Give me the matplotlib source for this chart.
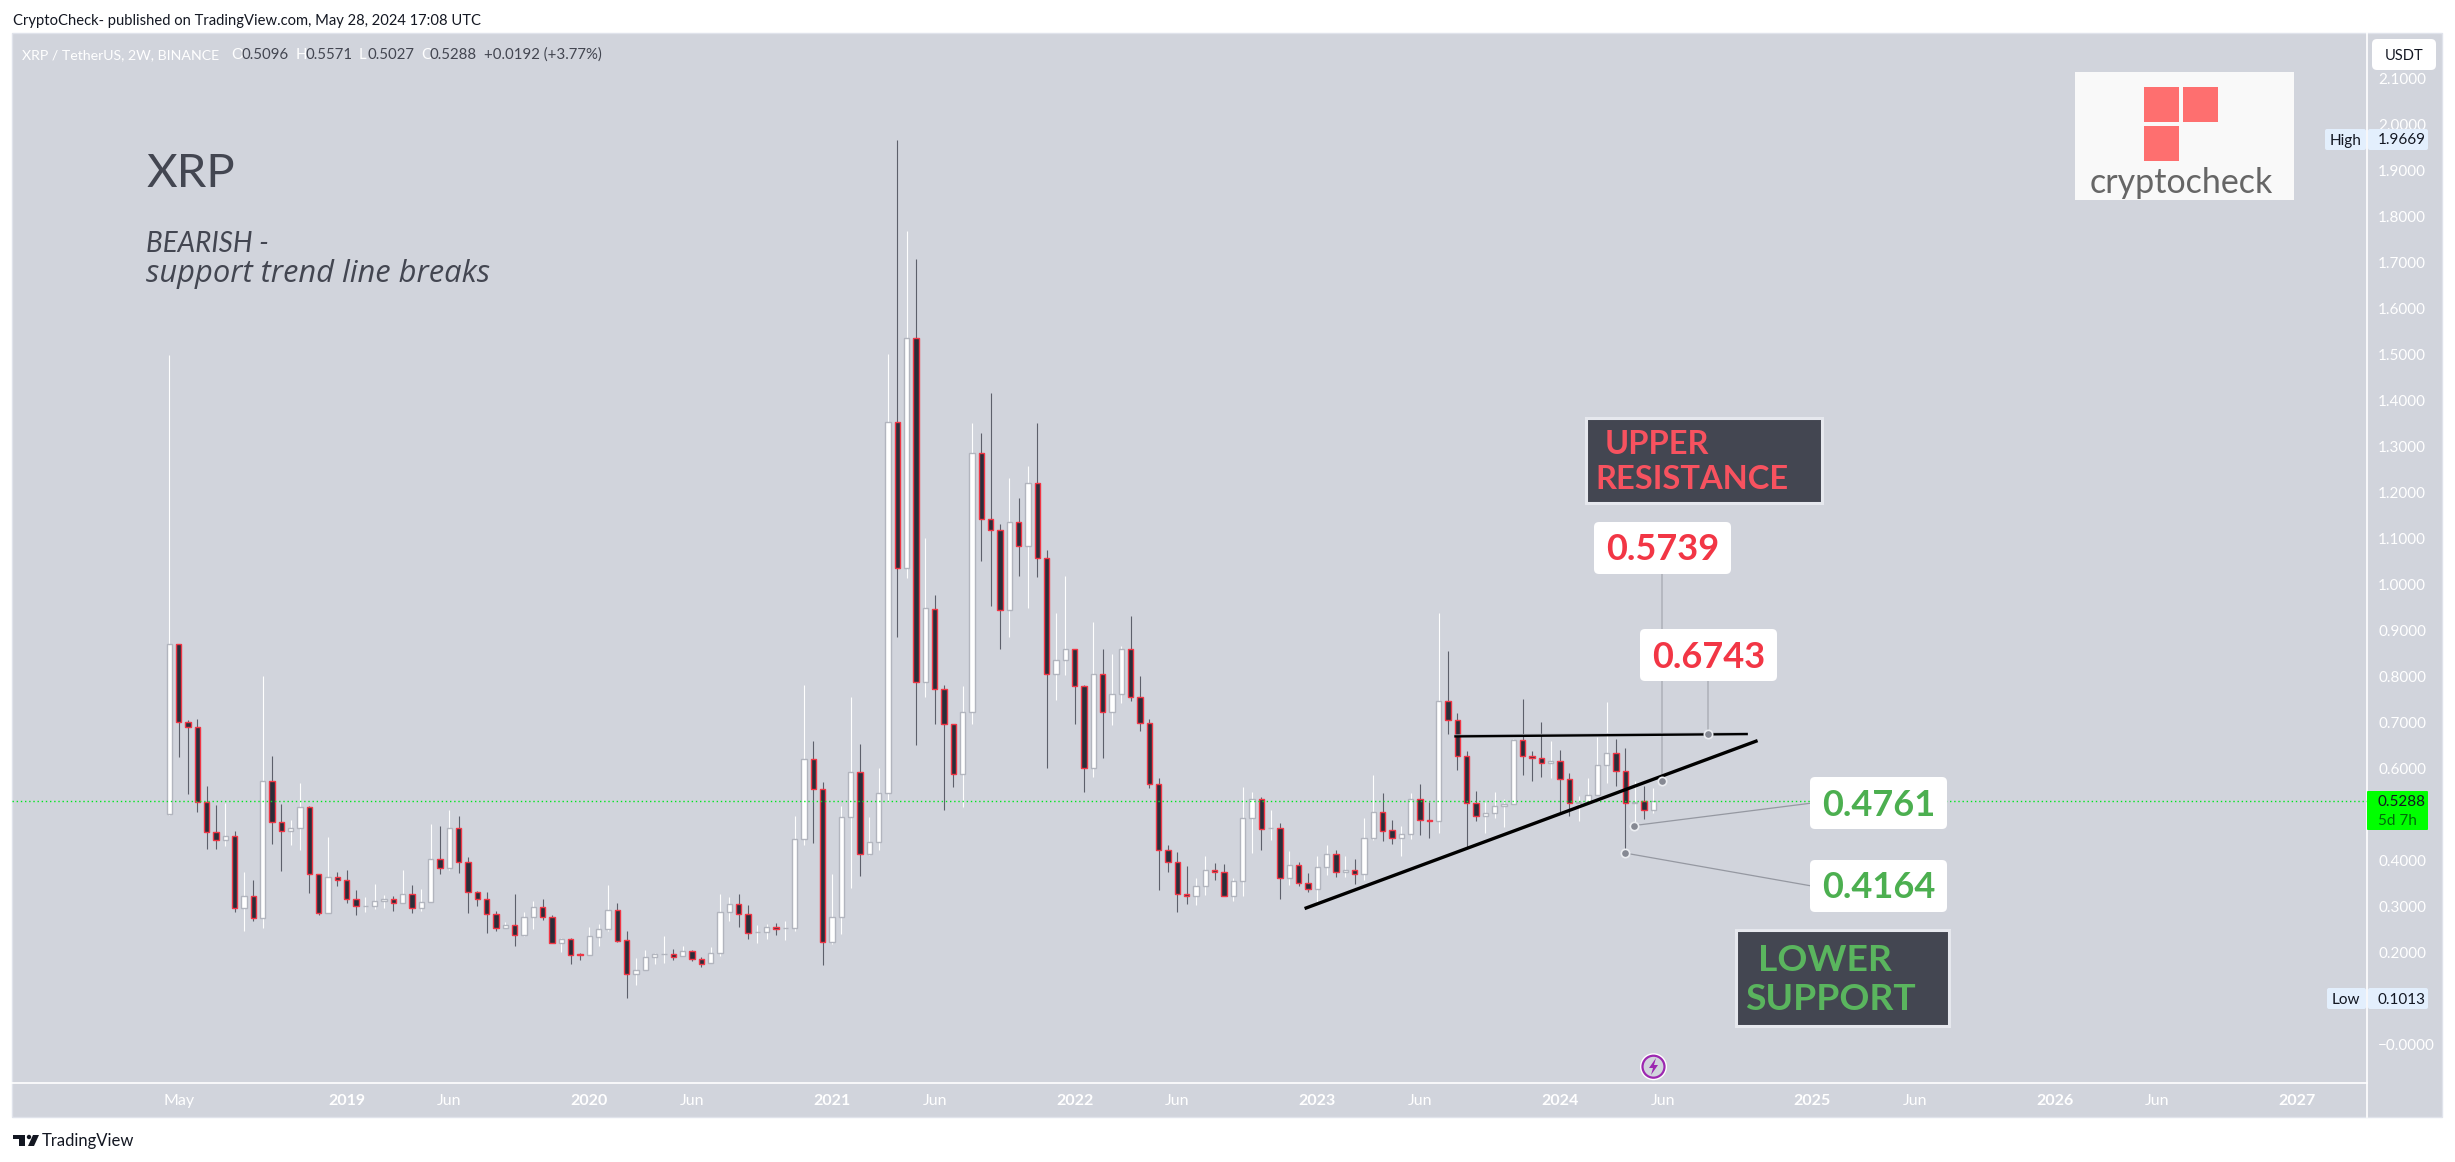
import matplotlib
matplotlib.use('Agg')
import matplotlib.pyplot as plt
from matplotlib.patches import Rectangle, FancyBboxPatch, Circle, Polygon

# XRP/USDT 2W candles, May 2018 - May 2024
opens = [.5005, .87, .7006, .6897, .5266, .4614, .4455, .4527, .2962, .3223,
         .2759, .5723, .4832, .4636, .4701, .5158, .3701, .2868, .3651, .3585,
         .3158, .3020, .3020, .3114, .3158, .3085, .3267, .2977, .3092, .4027,
         .3846, .4701, .3962, .3310, .3172, .2832, .2542, .2592, .2390, .2767,
         .2984, .2781, .2201, .2288, .1970, .1940, .2346, .2506, .2919, .2266,
         .1527, .1614, .1897, .1962, .1962, .1919, .2027, .1853, .1767, .1984,
         .2875, .3049, .2832, .2440, .2440, .2549, .2527, .2527, .4462, .6201,
         .5549, .2237, .2766, .4955, .5919, .4150, .4397, .5462, 1.3527, 1.0354,
         1.5354, .7890, .9462, .7737, .6962, .5875, .7237, 1.2854, 1.1419, 1.1180,
         .9441, 1.1354, 1.0832, 1.2201, 1.0571, .8049, .8353, .8593, .7788, .6006,
         .8049, .7223, .7614, .8593, .7549, .6984, .5658, .4223, .3962, .3266,
         .3223, .3440, .3788, .3745, .3223, .3549, .4918, .5332, .4701, .4701,
         .3614, .3897, .3505, .3375, .3854, .4136, .3745, .3788, .3701, .4484,
         .5049, .4658, .4484, .4571, .5346, .4875, .4853, .7462, .7049, .6266,
         .5245, .4962, .5027, .5179, .5223, .6614, .6266, .6223, .6114, .6158,
         .5766, .5245, .5274, .5419, .6071, .6332, .5940, .5245, .5288, .5096]
highs = [1.50, .87, .7056, .7078, .5621, .5208, .5252, .4643, .3752, .3578,
         .8013, .6274, .5230, .4882, .5687, .5194, .3701, .4513, .3752, .3795,
         .3361, .3208, .3491, .3245, .3230, .3795, .3469, .3382, .4795, .4752,
         .5100, .4969, .4078, .3339, .3317, .2904, .2658, .3274, .2882, .3121,
         .3165, .2810, .2310, .2317, .1991, .2556, .2621, .3469, .3078, .2469,
         .1890, .2056, .1991, .2360, .2078, .2143, .2056, .1904, .2122, .3274,
         .3208, .3274, .3034, .2600, .2622, .2643, .2687, .4969, .7817, .6600,
         .5708, .3709, .5194, .7556, .6535, .4948, .6013, 1.5013, 1.9669, 1.7687,
         1.7078, 1.1013, .9774, .7817, .6962, .7795, 1.3513, 1.3296, 1.4165, 1.1317,
         1.2317, 1.1883, 1.2578, 1.3513, 1.0752, .9382, 1.0187, .8593, .7817, .9187,
         .8600, .8491, .8665, .9317, .8013, .7078, .5795, .4339, .4187, .3882,
         .3621, .4100, .3947, .3926, .3621, .5600, .5491, .5382, .5100, .4817,
         .4209, .3969, .3730, .4100, .4339, .4230, .4100, .4035, .4918, .5861,
         .5469, .4882, .4752, .5469, .5665, .5274, .9382, .8556, .7209, .6382,
         .5513, .5274, .5491, .5339, .6636, .7513, .6382, .7013, .6600, .6404,
         .5904, .5404, .5795, .6687, .7447, .6643, .6448, .5730, .5629, .5571]
lows = [.50, .626, .5455, .5064, .4259, .4259, .4324, .2890, .2476, .2694,
        .2535, .4368, .3781, .4339, .4237, .3303, .2817, .2868, .3448, .3085,
        .2817, .2890, .2947, .2969, .2911, .3085, .2868, .2911, .3092, .3716,
        .3795, .3737, .2868, .3020, .2433, .2476, .2542, .2151, .2368, .2520,
        .2716, .2201, .2020, .1759, .1839, .1940, .2151, .2476, .2237, .1013,
        .1303, .1614, .1759, .1781, .1839, .1919, .1824, .1694, .1767, .1933,
        .2694, .2564, .2295, .2208, .2295, .2390, .2274, .2477, .4339, .4390,
        .1737, .2187, .2404, .3404, .3665, .4122, .4230, .5281, .8868, 1.0151,
        .6513, .7556, .6969, .5100, .5600, .5172, .6969, 1.0520, .9542, .8607,
        .8868, 1.0194, .9491, 1.0172, .6020, .7498, .8035, .6977, .5498, .5824,
        .6237, .6955, .7433, .7477, .6824, .5585, .3368, .3759, .2890, .3064,
        .3042, .3259, .3585, .3223, .3121, .3237, .4172, .4237, .4448, .3172,
        .3469, .3455, .3324, .3107, .3679, .3636, .3636, .3484, .3571, .4440,
        .4419, .4353, .4107, .4462, .4556, .4491, .4593, .6752, .5969, .4266,
        .4861, .4600, .4926, .4730, .5223, .5861, .5730, .5817, .5795, .5027,
        .4969, .4861, .5274, .5419, .5687, .5622, .4164, .4761, .4897, .5027]
closes = [.87, .7006, .6897, .5266, .4614, .4455, .4527, .2962, .3223, .2759,
          .5723, .4832, .4636, .4701, .5158, .3701, .2868, .3651, .3585, .3158,
          .3020, .3020, .3114, .3158, .3085, .3267, .2977, .3092, .4027, .3846,
          .4701, .3962, .3310, .3172, .2832, .2542, .2592, .2390, .2767, .2984,
          .2781, .2201, .2288, .1955, .1955, .2353, .2506, .2919, .2259, .1527,
          .1614, .1897, .1962, .1962, .1911, .2027, .1853, .1759, .1984, .2875,
          .3049, .2832, .2419, .2440, .2549, .2520, .2527, .4462, .6201, .5549,
          .2237, .2766, .4941, .5919, .4150, .4397, .5462, 1.3527, 1.0354, 1.5354,
          .7890, .9484, .7737, .6962, .5875, .7237, 1.2854, 1.1419, 1.1180, .9441,
          1.1354, 1.0832, 1.2201, 1.0571, .8049, .8353, .8593, .7788, .6006, .8049,
          .7223, .7614, .8593, .7549, .6984, .5658, .4223, .3962, .3266, .3223,
          .3440, .3788, .3759, .3223, .3549, .4918, .5332, .4680, .4701, .3614,
          .3897, .3505, .3375, .3854, .4136, .3745, .3788, .3716, .4484, .5049,
          .4636, .4484, .4571, .5346, .4875, .4853, .7462, .7049, .6266, .5245,
          .4962, .5027, .5179, .5223, .6614, .6266, .6223, .6114, .6158, .5766,
          .5245, .5274, .5419, .6071, .6332, .5940, .5245, .5274, .5093, .5288]

last_close = 0.5288
# 0.1000 and 0.5000 sit behind the Low and last price tags
price_ticks = [0.0, 0.2, 0.3, 0.4, 0.6, 0.7, 0.8, 0.9, 1.0, 1.1, 1.2, 1.3, 1.4, 1.5, 1.6, 1.7, 1.8, 1.9, 2.0, 2.1]
price_labels = ['\u22120.0000'] + ['%.4f' % p for p in price_ticks[1:]]
time_ticks = [1, 19, 30, 45, 56, 71, 82, 97, 108, 123, 134, 149, 160, 176, 187, 202, 213, 228]
time_labels = ['May', '2019', 'Jun', '2020', 'Jun', '2021', 'Jun', '2022', 'Jun', '2023',
               'Jun', '2024', 'Jun', '2025', 'Jun', '2026', 'Jun', '2027']

# drawn lines, x in bars, y in price
support_x = [121.8, 170.0]
support_y = [0.297, 0.6596]
resist_x = [137.8, 169.0]
resist_y = [0.670, 0.675]
anchor_x = [159.9, 164.9, 156.9, 155.97]
anchor_y = [0.5739, 0.6743, 0.4761, 0.4164]
target_x = [159.9, 164.9, 175.8, 175.8]
target_y = [1.03, 0.80, 0.5246, 0.3454]

W, H = 2455, 1162
BG = '#d1d4dc'
DARK = '#434651'
RED = '#f23645'
GREEN = '#4caf50'
FONT = 'Lato'

plt.rcParams['font.family'] = FONT
fig = plt.figure(figsize=(W / 100, H / 100), dpi=100, facecolor='white')

# panel behind everything, in pixel coordinates
back = fig.add_axes([0, 0, 1, 1], zorder=0)
back.set_xlim(0, W)
back.set_ylim(H, 0)
back.axis('off')
back.add_patch(Rectangle((12, 33), 2430, 1084, fc=BG, ec='#e0e3eb', lw=1))
back.plot([2367, 2367], [33, 1117], color='white', lw=1.2)
back.plot([12, 2367], [1083, 1083], color='white', lw=1.2)

# main axes, limits set so that bars and prices land on the original pixels
left, right, top, bottom = 12, 2367, 33, 1083
ax = fig.add_axes([left / W, 1 - bottom / H, (right - left) / W, (bottom - top) / H], zorder=1)
ax.patch.set_alpha(0)
ax.set_xlim((left - 169.4) / 9.333, (right - 169.4) / 9.333)
ax.set_ylim((1044.6 - bottom) / 460, (1044.6 - top) / 460)
for s in ax.spines.values():
    s.set_visible(False)

ax.yaxis.tick_right()
ax.set_yticks(price_ticks)
ax.set_yticklabels(price_labels, color='white', fontsize=11)
ax.tick_params(axis='y', length=0, pad=8)
ax.set_xticks(time_ticks)
ax.set_xticklabels(time_labels, color='white', fontsize=11.5)
ax.tick_params(axis='x', length=0, pad=8)
for lab in ax.get_xticklabels():
    if lab.get_text().isdigit():
        lab.set_fontweight('bold')

# candles
for i in range(len(opens)):
    up = closes[i] >= opens[i]
    ax.vlines(i, lows[i], highs[i], color='white' if up else '#5d606b', lw=0.8, zorder=2)
    ax.bar(i, closes[i] - opens[i], bottom=opens[i], width=0.58,
           color='white' if up else '#2a2e39', edgecolor='#b2b5be' if up else RED,
           linewidth=1.0, zorder=3)

ax.axhline(last_close, color='#00e620', lw=1, ls=(0, (1, 2)), zorder=4)
ax.plot(resist_x, [y + 0.002 for y in resist_y], color='#b2b5be', lw=1.5, zorder=5)
ax.plot(support_x, support_y, color='black', lw=2.4, zorder=6)
ax.plot(resist_x, resist_y, color='black', lw=1.7, zorder=6)
for i in range(len(anchor_x)):
    ax.plot([anchor_x[i], target_x[i]], [anchor_y[i], target_y[i]], color='#b2b5be' if i < 2 else '#9598a1',
            lw=1.3 if i < 2 else 0.9, zorder=5)
ax.plot(anchor_x, anchor_y, 'o', ms=6, mfc='#868993', mec='#eceef2', mew=1.2, zorder=7)

# overlay for boxes, labels and logo, in pixel coordinates
ov = fig.add_axes([0, 0, 1, 1], zorder=2)
ov.patch.set_alpha(0)
ov.set_xlim(0, W)
ov.set_ylim(H, 0)
ov.axis('off')


def rbox(x0, y0, x1, y1, color, r=4):
    ov.add_patch(FancyBboxPatch((x0 + r, y0 + r), x1 - x0 - 2 * r, y1 - y0 - 2 * r,
                                boxstyle='round,pad=%d' % r, fc=color, ec='none'))


# header and footer
ov.text(13, 25.5, 'CryptoCheck- published on TradingView.com, May 28, 2024 17:08 UTC', fontsize=10.6,
        color='#131722', va='baseline')
ov.text(22.5, 59, 'XRP / TetherUS, 2W, BINANCE', fontsize=10.2, color='white', va='baseline')
for x, s, c in [(231, 'O', 'white'), (241.6, '0.5096', DARK), (295.8, 'H', 'white'), (305, '0.5571', DARK),
                (359, 'L', 'white'), (367, '0.5027', DARK), (421, 'C', 'white'), (429.4, '0.5288', DARK),
                (484, '+0.0192 (+3.77%)', DARK)]:
    ov.text(x, 59, s, fontsize=10.8, color=c, va='baseline')
ov.add_patch(Rectangle((13, 1135), 12, 4, fc='#131722'))
ov.add_patch(Rectangle((19, 1139), 6, 7, fc='#131722'))
ov.add_patch(Circle((29, 1137), 2.2, fc='#131722'))
ov.add_patch(Polygon([(33, 1135), (39, 1135), (34, 1146), (28, 1146)], fc='#131722'))
ov.text(42, 1146, 'TradingView', fontsize=12, color='#131722', va='baseline')

# title text
ov.text(147, 187, 'XRP', fontsize=34, color=DARK, va='baseline')
ov.text(146, 252, 'BEARISH -', fontsize=20, style='italic', color=DARK, va='baseline')
ov.text(146, 282, 'support trend line breaks', fontsize=22.2, style='italic', family='Open Sans',
        color=DARK, va='baseline')

# level boxes
for x0, y0, s, c in [(1594, 522, '0.5739', RED), (1640, 629, '0.6743', RED),
                     (1810, 777, '0.4761', GREEN), (1810, 860, '0.4164', GREEN)]:
    rbox(x0, y0, x0 + 137, y0 + 52, 'white', r=5)
    ov.text(x0 + 68.5, y0 + 38.5, s, fontsize=26, fontweight='bold', color=c, ha='center', va='baseline')

ov.add_patch(Rectangle((1585.5, 417.5), 236, 85, fc=DARK, ec='#e6e8ee', lw=2.2))
ov.text(1605, 454, 'UPPER', fontsize=23.5, color='#f7525f', fontweight='bold', va='baseline')
ov.text(1595, 489, 'RESISTANCE', fontsize=23.5, color='#f7525f', fontweight='bold', va='baseline')
ov.add_patch(Rectangle((1735.5, 929.5), 213, 96, fc=DARK, ec='#e6e8ee', lw=2.2))
ov.text(1758, 971, 'LOWER', fontsize=26.8, color='#5ab55e', fontweight='bold', va='baseline')
ov.text(1745, 1010, 'SUPPORT', fontsize=26.8, color='#5ab55e', fontweight='bold', va='baseline')

# logo image stand-in
logo = Rectangle((2075, 72), 219, 128, fc='#f9f9f9', ec='none')
ov.add_patch(logo)
for x, y in [(2144, 87), (2183, 87), (2144, 125.5)]:
    ov.add_patch(Rectangle((x, y), 35, 35, fc='#fe6f6f', ec='none'))
t = ov.text(2090, 193, 'cryptocheck', fontsize=24.5, color='#666666', va='baseline')
t.set_clip_path(logo)

# price axis tags
rbox(2372, 39, 2436, 70, 'white', r=5)
ov.text(2404, 60, 'USDT', fontsize=10.5, color='#131722', ha='center', va='baseline')
for y0, y1, s, v, x0 in [(129, 150, 'High', '1.9669', 2325), (988, 1009, 'Low', '0.1013', 2327)]:
    rbox(x0, y0, 2366, y1, '#e3effd', r=2)
    rbox(2368, y0, 2428, y1, '#e3effd', r=2)
    ov.text(x0 + 5, y1 - 5.5, s, fontsize=11, color='#131722', va='baseline')
    ov.text(2378, y1 - 5.5, v, fontsize=11, color='#131722', va='baseline')
rbox(2367, 791, 2428, 830, '#00ff00', r=1)
ov.text(2378, 806, '0.5288', fontsize=11, color='#131722', va='baseline')
ov.text(2378, 825, '5d 7h', fontsize=11, color='#006b0a', va='baseline')

# lightning marker
ov.add_patch(Circle((1653.5, 1066.7), 13.5, fc='white', ec='none'))
ov.add_patch(Circle((1653.5, 1066.7), 11, fc=BG, ec='#9c27b0', lw=1.6))
ov.add_patch(Polygon([(1656, 1058), (1649, 1068), (1653, 1068), (1651, 1075), (1658, 1065), (1654, 1065)],
                     fc='#9c27b0', ec='none'))

fig.savefig('out.png', dpi=100)
